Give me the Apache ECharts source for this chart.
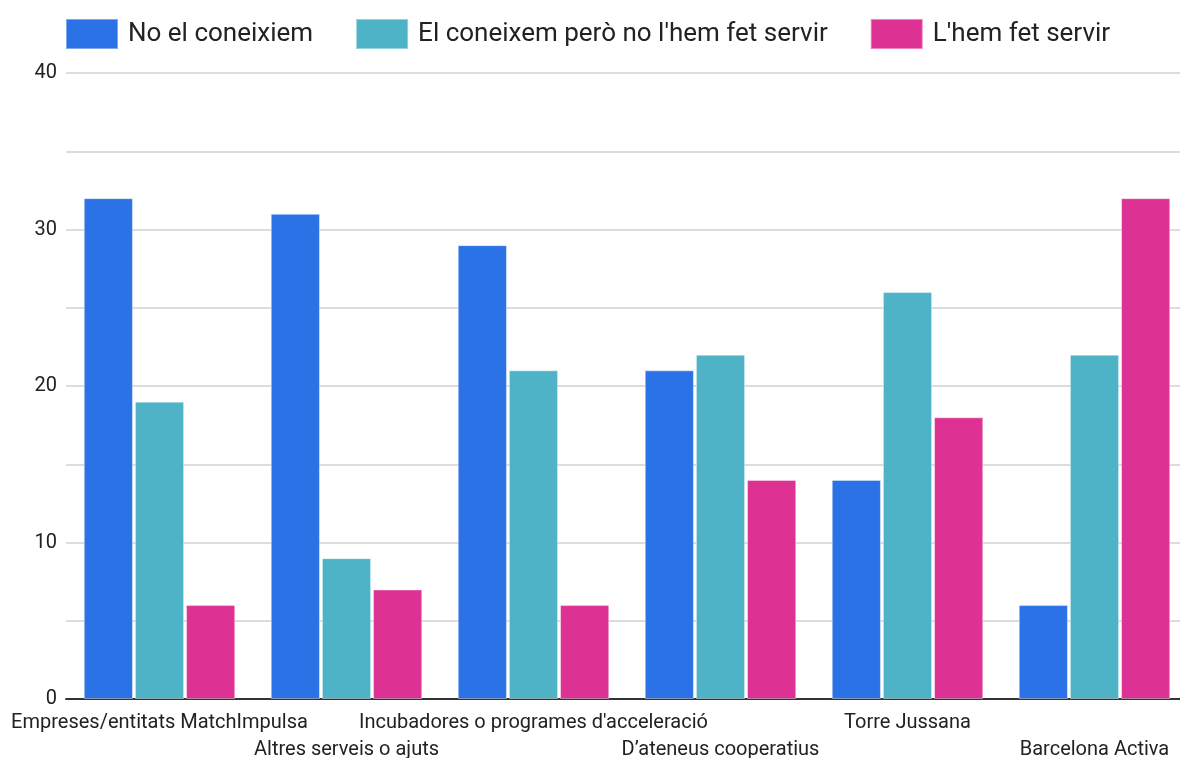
<!DOCTYPE html>
<html>
<head>
<meta charset="utf-8">
<script src="https://cdn.jsdelivr.net/npm/echarts@6/dist/echarts.min.js"></script>
<style>
  html, body { margin: 0; padding: 0; background: #fff; overflow: hidden; }
  #chart { width: 1180px; height: 758px; }
</style>
</head>
<body>
<div id="chart"></div>
<script>
const categories = [
  'Empreses/entitats MatchImpulsa',
  'Altres serveis o ajuts',
  "Incubadores o programes d'acceleració",
  'D’ateneus cooperatius',
  'Torre Jussana',
  'Barcelona Activa'
]
const seriesNames = ['No el coneixiem', "El coneixem però no l'hem fet servir", "L'hem fet servir"]
const noConeixiem = [32, 31, 29, 21, 14, 6]
const coneixemNoServir = [19, 9, 21, 22, 26, 22]
const hemFetServir = [6, 7, 6, 14, 18, 32]
const colors = ['#2a72e5', '#4fb3c7', '#dd3193']

const chart = echarts.init(document.getElementById('chart'))
const font = 'Roboto, "Noto Sans", sans-serif'

const barSeries = [noConeixiem, coneixemNoServir, hemFetServir].map((data, i) => ({
  name: seriesNames[i],
  type: 'bar',
  data: data,
  barGap: '4%',
  barCategoryGap: '19%',
  itemStyle: { color: colors[i], borderColor: 'rgba(255,255,255,0.4)', borderWidth: 1 }
}))

chart.setOption({
  animation: false,
  color: colors,
  textStyle: { fontFamily: font },
  legend: {
    data: seriesNames,
    left: 60,
    top: 13,
    itemWidth: 52,
    itemHeight: 30,
    itemGap: 42,
    icon: 'rect',
    textStyle: { fontSize: 26, color: '#222', fontFamily: font, padding: [0, 0, 0, 5] }
  },
  grid: { left: 66, right: -8, top: 73, bottom: 59, outerBoundsMode: 'none', containLabel: false },
  xAxis: {
    type: 'category',
    data: categories,
    axisTick: { show: false },
    axisLine: { lineStyle: { color: '#333', width: 2 } },
    axisLabel: {
      interval: 0,
      color: '#222',
      fontSize: 20,
      margin: 10,
      lineHeight: 27,
      formatter: (v, i) => (i % 2 ? '\n' + v : v)
    }
  },
  yAxis: {
    type: 'value',
    min: 0,
    max: 40,
    interval: 5,
    axisLine: { show: false },
    axisTick: { show: false },
    splitLine: { lineStyle: { color: '#dcdcdc', width: 2 } },
    axisLabel: {
      color: '#222',
      fontSize: 20,
      margin: 9,
      formatter: v => (v % 10 === 0 ? v : '')
    }
  },
  series: barSeries
})
</script>
</body>
</html>
